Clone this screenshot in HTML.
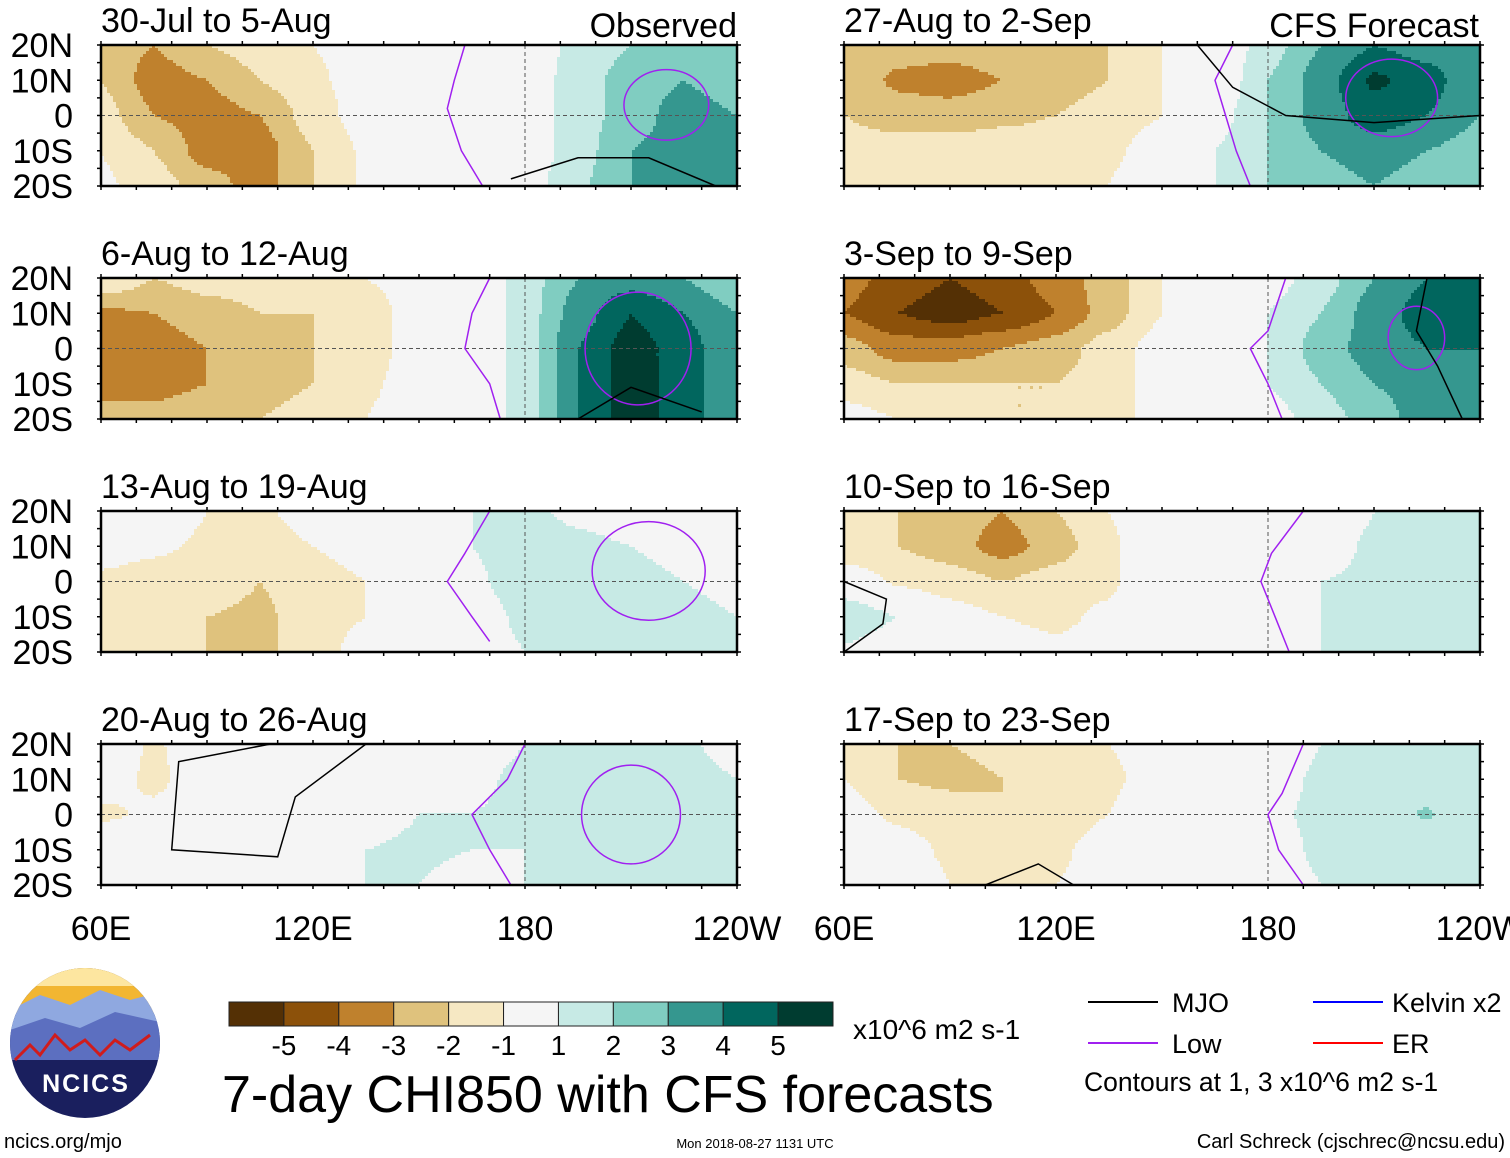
<!DOCTYPE html>
<html><head><meta charset="utf-8"><style>
body{margin:0;background:#fff;}
svg{display:block;font-family:"Liberation Sans",Arial,sans-serif;}
</style></head><body>
<svg id="chart" width="1510" height="1158" viewBox="0 0 1510 1158" xmlns="http://www.w3.org/2000/svg">
<rect width="1510" height="1158" fill="#fff"/>
<g id="panels"></g>
<g id="colorbar"></g>
<text x="853" y="1039" font-size="28">x10^6 m2 s-1</text>
<text x="222" y="1112" font-size="52">7-day CHI850 with CFS forecasts</text>
<g>
<line x1="1088" y1="1002" x2="1158" y2="1002" stroke="#000" stroke-width="2"/>
<text x="1172" y="1012" font-size="27">MJO</text>
<line x1="1088" y1="1043" x2="1158" y2="1043" stroke="#a020f0" stroke-width="2"/>
<text x="1172" y="1053" font-size="27">Low</text>
<line x1="1313" y1="1002" x2="1383" y2="1002" stroke="#0000ff" stroke-width="2"/>
<text x="1392" y="1012" font-size="27">Kelvin x2</text>
<line x1="1313" y1="1043" x2="1383" y2="1043" stroke="#ff0000" stroke-width="2"/>
<text x="1392" y="1053" font-size="27">ER</text>
<text x="1084" y="1091" font-size="26.5">Contours at 1, 3 x10^6 m2 s-1</text>
</g>
<g>
<defs><clipPath id="lc"><circle cx="85" cy="1043" r="75"/></clipPath></defs>
<circle cx="85" cy="1043" r="75" fill="#1a1f5e"/>
<g clip-path="url(#lc)">
<rect x="10" y="968" width="150" height="45" fill="#f2b632"/>
<rect x="10" y="968" width="150" height="18" fill="#fde6a0"/>
<path d="M10 1010 L40 995 L70 1005 L100 990 L130 1000 L160 992 L160 1030 L10 1035Z" fill="#8fa8e0"/>
<path d="M10 1030 L45 1018 L80 1028 L115 1012 L160 1022 L160 1060 L10 1060Z" fill="#5c6fc0"/>
<path d="M15 1060 L30 1045 L40 1055 L55 1035 L70 1050 L85 1040 L100 1055 L115 1040 L130 1050 L150 1035" fill="none" stroke="#d01c1c" stroke-width="3"/>
</g>
<text x="86" y="1092" font-size="25" font-weight="bold" fill="#fff" text-anchor="middle" letter-spacing="2">NCICS</text>
</g>
<text x="4" y="1148" font-size="20">ncics.org/mjo</text>
<text x="755" y="1148" font-size="13" text-anchor="middle">Mon 2018-08-27 1131 UTC</text>
<text x="1505" y="1148" font-size="20" text-anchor="end">Carl Schreck (cjschrec@ncsu.edu)</text>
</svg>
<script>
const levels=[-5,-4,-3,-2,-1,1,2,3,4,5];
const colors=["#543005","#8c510a","#bf812d","#dfc27d","#f6e8c3","#f5f5f5","#c7eae5","#80cdc1","#35978f","#01665e","#003c30"];
const lons=[60,75,90,105,120,135,150,165,180,195,210,225,240];
const lats=[20,10,0,-10,-20];
const titles=["30-Jul to 5-Aug","6-Aug to 12-Aug","13-Aug to 19-Aug","20-Aug to 26-Aug","27-Aug to 2-Sep","3-Sep to 9-Sep","10-Sep to 16-Sep","17-Sep to 23-Sep"];
const field1=[[-2.5,-3,-2,-1.5,-1,-0.5,0,0,0.5,1.2,2,2.5,2],[-2,-3.5,-3,-2,-1.2,-0.5,0,0,0.3,1.5,2.5,3,2.5],[-1.5,-3,-3.5,-3,-1.5,-0.5,0,0,0.3,1.5,2.5,3.5,3],[-1,-2,-3.5,-3.5,-2,-0.8,0,0,0.3,1.5,3,3.5,3],[-0.8,-1.5,-2.5,-3.5,-2,-0.8,0,0,0.5,1.8,3,3.5,3.5]];
const field2=[[-1,-2,-1.5,-1.5,-1.2,-1,-0.5,0,1.5,3,3.5,3,2],[-3.2,-3,-2.5,-2,-2,-1.5,-0.5,0,1.5,3.5,5,4,3],[-3.5,-3.5,-3,-2.5,-2,-1.5,-0.5,0,1.5,4,5.5,4.5,3],[-3.5,-3.5,-3,-2.5,-2,-1.2,-0.5,0,1.5,4,5.5,4.5,3],[-2.5,-2.5,-2,-2,-1.5,-1,-0.3,0,1.5,4,5.5,4.5,3]];
const field3=[[0,0,-1,-1.2,-0.5,0,0,1,1.2,0.8,0.5,0,0],[-0.5,-0.8,-1.2,-1.5,-1,-0.5,0,1,1.5,1.2,1,0.5,0],[-1.2,-1.5,-1.5,-2,-1.5,-1,0,0.8,1.5,1.5,1.5,1,0.5],[-1.2,-1.5,-2,-2.2,-1.5,-1,0,0.5,1.2,2,2,1.5,1],[-1,-1.5,-2,-2.2,-1.5,-0.5,0,0.5,1,1.5,1.5,1.5,1]];
const field4=[[0,-1.2,0,0,0,0,0,0.5,1,1.2,1.5,1.2,0.5],[-0.5,-1.2,-0.5,0,0,0,0,0.8,1.2,1.5,2,1.5,1],[-1.2,-0.8,0,0,0,0.5,1,1,1.2,1.5,2,1.5,1.2],[0,0,0,0,0,1,1.2,1,1,1.5,2,1.8,1.5],[0,0,0,0,0,1,1,0.5,1,1.5,1.8,1.8,1.5]];
const field5=[[-2,-2.5,-2.5,-2.2,-2,-2,-1,0,1.5,3,4,3.5,3],[-2.2,-3.2,-3.5,-3,-2.5,-2,-1,0,2,3.5,5.2,4.5,3],[-2,-2.5,-2.5,-2.2,-2,-1.5,-1,0.5,2,3.5,4.5,4,3],[-1.5,-1.5,-1.5,-1.5,-1.5,-1.2,-0.5,1,2,3,3.5,3,2.5],[-1,-1,-1.2,-1.2,-1.2,-1,0,1,2,2.5,3,2.5,2]];
const field6=[[-3.5,-4.5,-5,-4.5,-3.5,-2.5,-1,0,0.5,1.5,3,4,4],[-4,-5,-5.5,-5,-4,-2.5,-1,0,1,2,3.5,4.5,4.5],[-2.5,-3.5,-3.5,-3,-2.5,-1.5,-0.5,0,1,2.5,3.5,4,4],[-1.5,-2,-2,-2,-2,-1.5,-0.5,0,1,2,3,3.5,3.5],[-0.5,-1,-1.5,-2,-2,-1.5,-0.5,0,0.5,1.5,2.5,3.5,3.5]];
const field7=[[-1.5,-2,-2.5,-3,-2,-1,0,0,0,0,1,1,1],[-2,-2,-2.5,-3.5,-2.5,-1.2,0,0,0,0.5,1.2,1.2,1.2],[0,-1.2,-1.5,-2,-1.5,-1.2,0,0,0,1,1.2,1.2,1.2],[2,1,-0.5,-1,-1.2,-0.8,0,0,0,1,1.2,1.2,1.2],[0.8,0,0,-0.5,-0.8,-0.5,0,0,0,1,1,1.2,1.2]];
const field8=[[-1.5,-2,-2,-1.8,-1.5,-1,-0.5,0,0,1,1.2,1.2,1],[-1,-2,-2.2,-2,-1.5,-1.2,-0.5,0,0.5,1.2,1.5,1.5,1.2],[-0.5,-1.2,-1.5,-2,-1.5,-1,0,0,0.8,1.2,1.5,2.1,1.2],[0,-0.5,-1.2,-1.5,-1.2,-0.5,0,0,0.5,1.2,1.2,1.2,1.2],[0,0,-1,-1.2,-1,-0.5,0,0,0.3,1,1,1,1]];
const fields=[field1,field2,field3,field4,field5,field6,field7,field8];
const lows=[[[163,20],[160,10],[158,2],[162,-10],[168,-20]],[[170,20],[165,10],[163,0],[170,-10],[173,-20]],[[170,20],[163,8],[158,0],[165,-10],[170,-17]],[[180,20],[175,10],[165,0],[170,-10],[176,-20]],[[170,20],[165,10],[168,0],[171,-10],[175,-20]],[[185,20],[180,5],[175,0],[180,-10],[184,-20]],[[190,20],[181,8],[178,0],[182,-10],[186,-20]],[[190,20],[184,6],[180,0],[183,-10],[190,-20]]];
const lowOvals=[[220,3,12,10],[212,0,15,16],[215,3,16,14],[210,0,14,14],[215,5,13,11],[222,3,8,9],null,null];
const mjoLines=[[[176,-18],[195,-12],[215,-12],[234,-20]],[[195,-20],[210,-11],[230,-18]],null,[[108,20],[82,15],[80,-10],[110,-12],[115,5],[135,20]],[[160,20],[170,8],[185,0],[210,-2],[240,0]],[[225,20],[222,5],[228,-5],[235,-20]],[[60,0],[72,-5],[71,-12],[60,-20]],[[100,-20],[115,-14],[125,-20]]];

const NS="http://www.w3.org/2000/svg";
const g=document.getElementById('panels');
const W=636,H=141;
const xs=[101,101,101,101,844,844,844,844];
const ys=[45,278,511,744,45,278,511,744];
function el(t,a,p){const e=document.createElementNS(NS,t);for(const k in a)e.setAttribute(k,a[k]);(p||g).appendChild(e);return e;}
function xScale(i,lon){return xs[i]+(lon-60)/180*W;}
function yScale(i,lat){return ys[i]+(20-lat)/40*H;}
function sm(t){return t*t*(3-2*t);}
function val(f,lon,lat){
  let fi=(lon-60)/15, fj=(20-lat)/10;
  fi=Math.max(0,Math.min(12-1e-9,fi)); fj=Math.max(0,Math.min(4-1e-9,fj));
  const i=Math.floor(fi),j=Math.floor(fj),a=0.5*(fi-i)+0.5*sm(fi-i),b=0.5*(fj-j)+0.5*sm(fj-j);
  return f[j][i]*(1-a)*(1-b)+f[j][i+1]*a*(1-b)+f[j+1][i]*(1-a)*b+f[j+1][i+1]*a*b;
}
function cidx(v){let k=0;while(k<levels.length&&v>=levels[k])k++;return k;}
for(let p=0;p<8;p++){
  const pg=el('g',{});
  
  
  const f=fields[p];const step=3;
  for(let py=0;py<H;py+=step){
    let runStart=0,runC=-1;
    const lat=20-(py+step/2)/H*40;
    for(let px=0;px<=W;px+=step){
      let c=-2;
      if(px<W){const lon=60+(px+step/2)/W*180;c=cidx(val(f,lon,lat));}
      if(c!==runC){
        if(runC>=0){const r=el('rect',{x:xs[p]+runStart,y:ys[p]+py,width:Math.min(px,W)-runStart+0.5,height:Math.min(step+0.5,H-py),fill:colors[runC]},pg);
          
          }
        runStart=px;runC=c;
      }
    }
  }
  el('line',{x1:xs[p],y1:yScale(p,0),x2:xs[p]+W,y2:yScale(p,0),stroke:'#555','stroke-dasharray':'4,3','stroke-width':1},pg);
  el('line',{x1:xScale(p,180),y1:ys[p],x2:xScale(p,180),y2:ys[p]+H,stroke:'#555','stroke-dasharray':'4,3','stroke-width':1},pg);
  const toPath=pts=>'M'+pts.map(q=>xScale(p,q[0]).toFixed(1)+' '+yScale(p,q[1]).toFixed(1)).join(' L');
  const lp=el('path',{d:toPath(lows[p]),fill:'none',stroke:'#a020f0','stroke-width':1.5,'stroke-linejoin':'round'},pg);
  
  
  if(lowOvals[p]){const o=lowOvals[p];
    const e=el('ellipse',{cx:xScale(p,o[0]),cy:yScale(p,o[1]),rx:o[2]/180*W,ry:o[3]/40*H,fill:'none',stroke:'#a020f0','stroke-width':1.5},pg);
    
    }
  if(mjoLines[p]){const m=el('path',{d:toPath(mjoLines[p]),fill:'none',stroke:'#000','stroke-width':1.5},pg);
    
    }
  el('rect',{x:xs[p],y:ys[p],width:W,height:H,fill:'none',stroke:'#000','stroke-width':2.5},pg);
  for(let lon=60;lon<=240;lon+=10){const x=xScale(p,lon);
    el('line',{x1:x,y1:ys[p]-4,x2:x,y2:ys[p],stroke:'#000','stroke-width':1.5},pg);
    el('line',{x1:x,y1:ys[p]+H,x2:x,y2:ys[p]+H+4,stroke:'#000','stroke-width':1.5},pg);}
  for(let lat=-20;lat<=20;lat+=5){const y=yScale(p,lat);
    el('line',{x1:xs[p]-4,y1:y,x2:xs[p],y2:y,stroke:'#000','stroke-width':1.5},pg);
    el('line',{x1:xs[p]+W,y1:y,x2:xs[p]+W+4,y2:y,stroke:'#000','stroke-width':1.5},pg);}
  const t=el('text',{x:xs[p],y:ys[p]-13,'font-size':34},pg);t.textContent=titles[p];
  
  
  if(p<4){
    const latLab=['20N','10N','0','10S','20S'];
    latLab.forEach((s,k)=>{const tt=el('text',{x:73,y:ys[p]+k*H/4+12,'font-size':34,'text-anchor':'end'},pg);tt.textContent=s;
      
      });
  }
}
function txt(s,x,y,fs,anc,name){const t=el('text',{x:x,y:y,'font-size':fs,'text-anchor':anc||'start'});t.textContent=s;
  
  return t;}
txt('Observed',737,37,34,'end','observed-label');
txt('CFS Forecast',1479,37,34,'end','forecast-label');
const lonLab=['60E','120E','180','120W'];
[101,844].forEach(x0=>lonLab.forEach((s,k)=>txt(s,x0+k*W/3,940,34,'middle','lon-label')));
const cb=document.getElementById('colorbar');
const cbX=229,cbW=604/11;
colors.forEach((c,k)=>{const r=el('rect',{x:cbX+k*cbW,y:1002,width:cbW,height:24,fill:c,stroke:'#222','stroke-width':1},cb);
  
  });
levels.forEach((v,k)=>{const t=el('text',{x:cbX+(k+1)*cbW,y:1055,'font-size':28,'text-anchor':'middle'},cb);t.textContent=String(v);
  
  });
</script>
</body></html>
